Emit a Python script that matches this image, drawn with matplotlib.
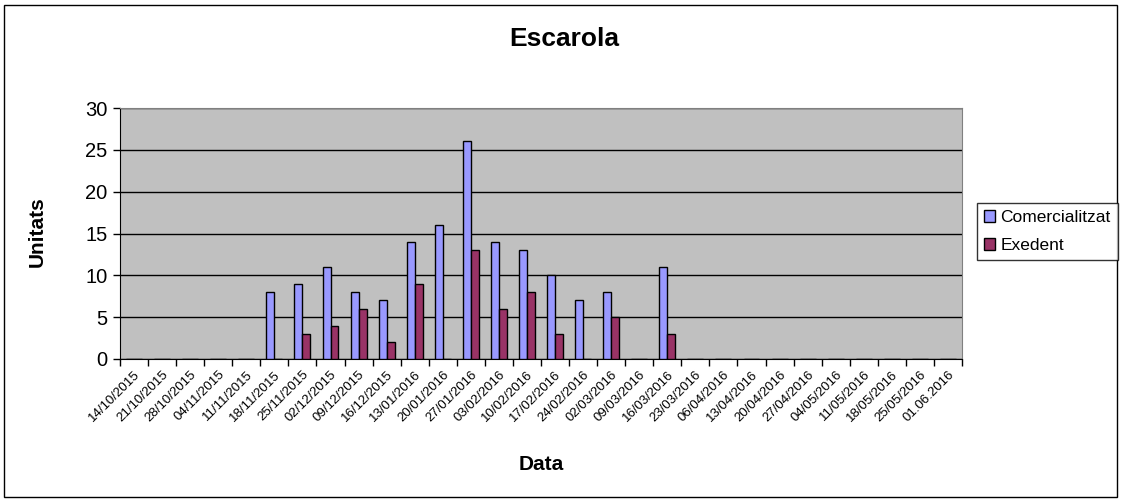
import numpy as np
import matplotlib.pyplot as plt
from matplotlib.patches import Rectangle

plt.rcParams['font.family'] = ['Liberation Sans', 'DejaVu Sans']

# Dates (categories)
dates = ['14/10/2015', '21/10/2015', '28/10/2015', '04/11/2015', '11/11/2015',
         '18/11/2015', '25/11/2015', '02/12/2015', '09/12/2015', '16/12/2015',
         '13/01/2016', '20/01/2016', '27/01/2016', '03/02/2016', '10/02/2016',
         '17/02/2016', '24/02/2016', '02/03/2016', '09/03/2016', '16/03/2016',
         '23/03/2016', '06/04/2016', '13/04/2016', '20/04/2016', '27/04/2016',
         '04/05/2016', '11/05/2016', '18/05/2016', '25/05/2016', '01.06.2016']

comercialitzat = [0, 0, 0, 0, 0, 8, 9, 11, 8, 7, 14, 16, 26, 14, 13,
                  10, 7, 8, 0, 11, 0, 0, 0, 0, 0, 0, 0, 0, 0, 0]
exedent = [0, 0, 0, 0, 0, 0, 3, 4, 6, 2, 9, 0, 13, 6, 8,
           3, 0, 5, 0, 3, 0, 0, 0, 0, 0, 0, 0, 0, 0, 0]

W, H = 1121, 499
fig = plt.figure(figsize=(W / 100, H / 100), dpi=100)
ax = fig.add_axes([120 / W, 1 - 359 / H, 842 / W, 251 / H])

# outer chart frame
fig.patches.append(Rectangle((4 / W, 2.5 / H), 1113 / W, 492 / H,
                             transform=fig.transFigure, fill=False,
                             edgecolor='black', linewidth=1))

x = np.arange(len(dates)) + 0.5
w = 0.285
ax.set_facecolor('#C0C0C0')
ax.bar(x - w / 2, comercialitzat, w, color='#9999FF', edgecolor='black',
       linewidth=1, label='Comercialitzat', zorder=3)
ax.bar(x + w / 2, exedent, w, color='#993366', edgecolor='black',
       linewidth=1, label='Exedent', zorder=3)

ax.set_xlim(0, len(dates))
ax.set_ylim(0, 30)
ax.set_yticks(range(0, 31, 5))
ax.yaxis.grid(True, color='black', linewidth=1, zorder=1)
ax.tick_params(axis='y', labelsize=14.5, direction='out', length=5, width=1,
               pad=4)

ax.set_xticks(range(len(dates) + 1))
ax.set_xticklabels([])
ax.set_xticks(x, minor=True)
ax.set_xticklabels(dates, minor=True, rotation=45, ha='right',
                   rotation_mode='anchor', fontsize=9.5)
ax.tick_params(axis='x', which='major', direction='out', length=5, width=1)
ax.tick_params(axis='x', which='minor', length=0, pad=7)

for s in ['top', 'right']:
    ax.spines[s].set_color('#808080')
ax.spines['left'].set_color('black')
ax.spines['bottom'].set_color('black')

fig.text(564 / W, 1 - 39 / H, 'Escarola', ha='center', va='center',
         fontsize=19, fontweight='bold')
fig.text(541 / W, 1 - 465 / H, 'Data', ha='center', va='center',
         fontsize=15, fontweight='bold')
fig.text(37 / W, 1 - 232 / H, 'Unitats', ha='center', va='center',
         fontsize=15, fontweight='bold', rotation=90)

leg = fig.legend(loc='upper left', bbox_to_anchor=(977 / W, 1 - 203 / H),
                 frameon=True, fancybox=False, edgecolor='black', fontsize=12.5,
                 handlelength=0.65, handleheight=0.65, handletextpad=0.3,
                 borderpad=0.4, labelspacing=0.75, borderaxespad=0)
leg.get_frame().set_linewidth(1)

fig.savefig('out.png', dpi=100)
